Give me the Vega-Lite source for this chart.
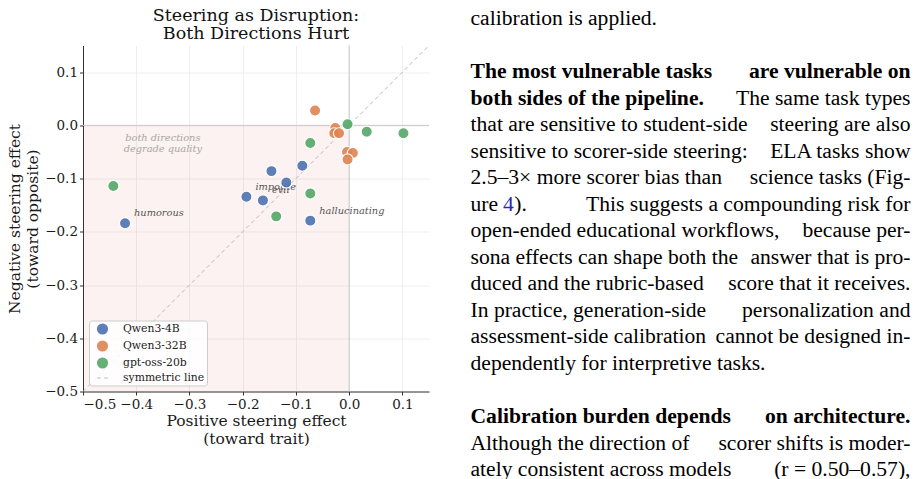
{
  "$schema": "https://vega.github.io/schema/vega-lite/v6.json",
  "padding": {"left": 7, "top": 6.5, "right": 0, "bottom": 0},
  "background": "white",
  "bounds": "flush",
  "spacing": 41.5,
  "config": {"view": {"stroke": null}, "font": "DejaVu Serif"},
  "resolve": {
    "scale": {"color": "independent", "shape": "independent", "size": "independent", "stroke": "independent"},
    "legend": {"color": "independent", "shape": "independent", "size": "independent", "stroke": "independent"}
  },
  "datasets": {
    "scores": [
      {"model": "Qwen3-4B", "x": -0.421, "y": -0.184, "trait": "humorous"},
      {"model": "Qwen3-4B", "x": -0.193, "y": -0.134, "trait": "impolite"},
      {"model": "Qwen3-4B", "x": -0.162, "y": -0.141, "trait": "evil"},
      {"model": "Qwen3-4B", "x": -0.146, "y": -0.086, "trait": null},
      {"model": "Qwen3-4B", "x": -0.118, "y": -0.1075, "trait": null},
      {"model": "Qwen3-4B", "x": -0.088, "y": -0.076, "trait": null},
      {"model": "Qwen3-4B", "x": -0.073, "y": -0.179, "trait": "hallucinating"},
      {"model": "Qwen3-32B", "x": -0.064, "y": 0.028, "trait": null},
      {"model": "Qwen3-32B", "x": -0.026, "y": -0.005, "trait": null},
      {"model": "Qwen3-32B", "x": -0.028, "y": -0.015, "trait": null},
      {"model": "Qwen3-32B", "x": -0.019, "y": -0.015, "trait": null},
      {"model": "Qwen3-32B", "x": -0.004, "y": -0.05, "trait": null},
      {"model": "Qwen3-32B", "x": 0.007, "y": -0.052, "trait": null},
      {"model": "Qwen3-32B", "x": -0.003, "y": -0.064, "trait": null},
      {"model": "gpt-oss-20b", "x": -0.003, "y": 0.002, "trait": null},
      {"model": "gpt-oss-20b", "x": 0.033, "y": -0.012, "trait": null},
      {"model": "gpt-oss-20b", "x": 0.102, "y": -0.015, "trait": null},
      {"model": "gpt-oss-20b", "x": -0.073, "y": -0.033, "trait": null},
      {"model": "gpt-oss-20b", "x": -0.443, "y": -0.114, "trait": null},
      {"model": "gpt-oss-20b", "x": -0.073, "y": -0.128, "trait": null},
      {"model": "gpt-oss-20b", "x": -0.137, "y": -0.171, "trait": null}
    ],
    "quadrant": [{"x": -0.5, "x2": 0, "y": -0.5, "y2": 0}],
    "zeroX": [{"x": 0}],
    "zeroY": [{"y": 0}],
    "diagonal": [
      {"model": "symmetric line", "x": -0.5, "y": -0.5},
      {"model": "symmetric line", "x": 0.15, "y": 0.15}
    ],
    "note": [{"x": -0.35, "y": -0.023, "text": "both directions\ndegrade quality"}],
    "page": [
      {"line": 0, "part": "lead", "kind": "body", "s": "calibration is applied."},
      {"line": 2, "part": "lead", "kind": "bold", "s": "The most vulnerable tasks"},
      {"line": 2, "part": "tail", "kind": "bold", "s": "are vulnerable on"},
      {"line": 3, "part": "lead", "kind": "bold", "s": "both sides of the pipeline."},
      {"line": 3, "part": "tail", "kind": "body", "s": "The same task types"},
      {"line": 4, "part": "lead", "kind": "body", "s": "that are sensitive to student-side"},
      {"line": 4, "part": "tail", "kind": "body", "s": "steering are also"},
      {"line": 5, "part": "lead", "kind": "body", "s": "sensitive to scorer-side steering:"},
      {"line": 5, "part": "tail", "kind": "body", "s": "ELA tasks show"},
      {"line": 6, "part": "lead", "kind": "body", "s": "2.5–3× more scorer bias than"},
      {"line": 6, "part": "tail", "kind": "body", "s": "science tasks (Fig-"},
      {"line": 7, "part": "lead", "kind": "body", "s": "ure\u00a0\u00a0\u00a0)."},
      {"line": 7, "part": "lead", "kind": "ref", "s": "\u200b\u00a0\u00a0\u00a0\u00a0\u00a0\u00a04"},
      {"line": 7, "part": "tail", "kind": "body", "s": "This suggests a compounding risk for"},
      {"line": 8, "part": "lead", "kind": "body", "s": "open-ended educational workflows,"},
      {"line": 8, "part": "tail", "kind": "body", "s": "because per-"},
      {"line": 9, "part": "lead", "kind": "body", "s": "sona effects can shape both the"},
      {"line": 9, "part": "tail", "kind": "body", "s": "answer that is pro-"},
      {"line": 10, "part": "lead", "kind": "body", "s": "duced and the rubric-based"},
      {"line": 10, "part": "tail", "kind": "body", "s": "score that it receives."},
      {"line": 11, "part": "lead", "kind": "body", "s": "In practice, generation-side"},
      {"line": 11, "part": "tail", "kind": "body", "s": "personalization and"},
      {"line": 12, "part": "lead", "kind": "body", "s": "assessment-side calibration"},
      {"line": 12, "part": "tail", "kind": "body", "s": "cannot be designed in-"},
      {"line": 13, "part": "lead", "kind": "body", "s": "dependently for interpretive tasks."},
      {"line": 15, "part": "lead", "kind": "bold", "s": "Calibration burden depends"},
      {"line": 15, "part": "tail", "kind": "bold", "s": "on architecture."},
      {"line": 16, "part": "lead", "kind": "body", "s": "Although the direction of"},
      {"line": 16, "part": "tail", "kind": "body", "s": "scorer shifts is moder-"},
      {"line": 17, "part": "lead", "kind": "body", "s": "ately consistent across models"},
      {"line": 17, "part": "tail", "kind": "body", "s": "(r = 0.50–0.57),"}
    ]
  },
  "hconcat": [
    {
      "width": 346,
      "height": 346,
      "title": {
        "text": ["Steering as Disruption:", "Both Directions Hurt"],
        "font": "DejaVu Serif",
        "fontSize": 17.5,
        "fontWeight": "normal",
        "lineHeight": 18.5,
        "offset": 1,
        "anchor": "middle",
        "color": "#111111"
      },
      "layer": [
        {
          "data": {"name": "quadrant"},
          "mark": {"type": "rect", "color": "#d62728", "opacity": 0.06},
          "encoding": {
            "x": {
              "field": "x",
              "type": "quantitative",
              "scale": {"domain": [-0.5, 0.15], "nice": false, "zero": false},
              "axis": {
                "title": ["Positive steering effect", "(toward trait)"],
                "values": [-0.5, -0.4, -0.3, -0.2, -0.1, 0, 0.1],
                "format": ".1f",
                "grid": true,
                "gridColor": "#ebebeb",
                "gridWidth": 0.8,
                "domainColor": "#333333",
                "tickColor": "#333333",
                "tickSize": 3.5,
                "labelFont": "DejaVu Serif",
                "labelFontSize": 13.5,
                "labelColor": "#1a1a1a",
                "labelPadding": 2,
                "titleFont": "DejaVu Serif",
                "titleFontSize": 15.5,
                "titleFontWeight": "normal",
                "titleColor": "#1a1a1a",
                "titlePadding": 3,
                "titleLineHeight": 18
              }
            },
            "x2": {"field": "x2"},
            "y": {
              "field": "y",
              "type": "quantitative",
              "scale": {"domain": [-0.5, 0.15], "nice": false, "zero": false},
              "axis": {
                "title": ["Negative steering effect", "(toward opposite)"],
                "values": [-0.5, -0.4, -0.3, -0.2, -0.1, 0, 0.1],
                "format": ".1f",
                "grid": true,
                "gridColor": "#ebebeb",
                "gridWidth": 0.8,
                "domainColor": "#333333",
                "tickColor": "#333333",
                "tickSize": 3.5,
                "labelFont": "DejaVu Serif",
                "labelFontSize": 13.5,
                "labelColor": "#1a1a1a",
                "labelPadding": 2,
                "titleFont": "DejaVu Serif",
                "titleFontSize": 15.5,
                "titleFontWeight": "normal",
                "titleColor": "#1a1a1a",
                "titlePadding": 4,
                "titleLineHeight": 18
              }
            },
            "y2": {"field": "y2"}
          }
        },
        {
          "data": {"name": "zeroX"},
          "mark": {"type": "rule", "color": "#c8c8c8", "strokeWidth": 1},
          "encoding": {"x": {"field": "x", "type": "quantitative"}}
        },
        {
          "data": {"name": "zeroY"},
          "mark": {"type": "rule", "color": "#c8c8c8", "strokeWidth": 1},
          "encoding": {"y": {"field": "y", "type": "quantitative"}}
        },
        {
          "data": {"name": "diagonal"},
          "mark": {"type": "line", "strokeWidth": 1, "strokeDash": [4, 3]},
          "encoding": {
            "x": {"field": "x", "type": "quantitative"},
            "y": {"field": "y", "type": "quantitative"},
            "stroke": {
              "field": "model",
              "type": "nominal",
              "scale": {
                "domain": ["Qwen3-4B", "Qwen3-32B", "gpt-oss-20b", "symmetric line"],
                "range": ["transparent", "transparent", "transparent", "#b8b8b8"]
              },
              "legend": {"title": null, "orient": "bottom-left"}
            }
          }
        },
        {
          "data": {"name": "note"},
          "mark": {
            "type": "text",
            "font": "DejaVu Serif",
            "fontSize": 9.8,
            "fontStyle": "italic",
            "color": "#a6a6a6",
            "align": "center",
            "baseline": "middle",
            "lineBreak": "\n",
            "lineHeight": 11.5
          },
          "encoding": {
            "x": {"field": "x", "type": "quantitative"},
            "y": {"field": "y", "type": "quantitative"},
            "text": {"field": "text"}
          }
        },
        {
          "data": {"name": "scores"},
          "transform": [{"filter": "isValid(datum.trait)"}],
          "mark": {
            "type": "text",
            "font": "DejaVu Serif",
            "fontSize": 9.8,
            "fontStyle": "italic",
            "color": "#555555",
            "align": "left",
            "baseline": "middle",
            "dx": 9,
            "dy": -10
          },
          "encoding": {
            "x": {"field": "x", "type": "quantitative"},
            "y": {"field": "y", "type": "quantitative"},
            "text": {"field": "trait"}
          }
        },
        {
          "data": {"name": "scores"},
          "mark": {"type": "point", "filled": true, "opacity": 0.9, "stroke": "#ffffff", "strokeWidth": 1.2},
          "encoding": {
            "x": {"field": "x", "type": "quantitative"},
            "y": {"field": "y", "type": "quantitative"},
            "shape": {
              "field": "model",
              "type": "nominal",
              "scale": {
                "domain": ["Qwen3-4B", "Qwen3-32B", "gpt-oss-20b", "symmetric line"],
                "range": ["circle", "circle", "circle", "stroke"]
              },
              "legend": {"title": null, "orient": "bottom-left"}
            },
            "size": {
              "field": "model",
              "type": "nominal",
              "scale": {
                "domain": ["Qwen3-4B", "Qwen3-32B", "gpt-oss-20b", "symmetric line"],
                "range": [125, 125, 125, 484]
              },
              "legend": {"title": null, "orient": "bottom-left"}
            },
            "color": {
              "field": "model",
              "type": "nominal",
              "scale": {
                "domain": ["Qwen3-4B", "Qwen3-32B", "gpt-oss-20b", "symmetric line"],
                "range": ["#4C72B0", "#DD8452", "#55A868", "#b8b8b8"]
              },
              "legend": {
                "title": null,
                "orient": "bottom-left",
                "offset": 6,
                "fillColor": "rgba(255,255,255,0.82)",
                "strokeColor": "#cccccc",
                "cornerRadius": 3,
                "padding": 2,
                "rowPadding": 0,
                "labelFont": "DejaVu Serif",
                "labelFontSize": 10.8,
                "labelColor": "#222222",
                "symbolOffset": 5,
                "labelOffset": 14,
                "symbolStrokeWidth": 1.2,
                "symbolDash": [4, 3],
                "symbolOpacity": 0.9
              }
            }
          }
        }
      ]
    },
    {
      "width": 440,
      "height": 345,
      "data": {"name": "page"},
      "encoding": {
        "y": {
          "field": "line",
          "type": "quantitative",
          "scale": {"domain": [1, 14], "reverse": true, "nice": false, "zero": false},
          "axis": null
        },
        "text": {"field": "s"}
      },
      "layer": [
        {
          "transform": [{"filter": "datum.kind === 'bold' && datum.part === 'lead'"}],
          "mark": {"type": "text", "font": "Liberation Serif", "fontSize": 21.6, "fontWeight": "bold", "align": "left", "baseline": "middle", "color": "#000000"},
          "encoding": {
            "x": {"datum": 0, "type": "quantitative", "scale": {"domain": [0, 1], "nice": false, "zero": false}, "axis": null}
          }
        },
        {
          "transform": [{"filter": "datum.kind === 'bold' && datum.part === 'tail'"}],
          "mark": {"type": "text", "font": "Liberation Serif", "fontSize": 21.6, "fontWeight": "bold", "align": "right", "baseline": "middle", "color": "#000000"},
          "encoding": {
            "x": {"datum": 1, "type": "quantitative"}
          }
        },
        {
          "transform": [{"filter": "datum.kind !== 'bold' && datum.part === 'lead'"}],
          "mark": {"type": "text", "font": "Liberation Serif", "fontSize": 21.6, "align": "left", "baseline": "middle"},
          "encoding": {
            "x": {"datum": 0, "type": "quantitative"},
            "color": {
              "field": "kind",
              "type": "nominal",
              "scale": {"domain": ["body", "ref"], "range": ["#000000", "#2a2ab0"]},
              "legend": null
            }
          }
        },
        {
          "transform": [{"filter": "datum.kind !== 'bold' && datum.part === 'tail'"}],
          "mark": {"type": "text", "font": "Liberation Serif", "fontSize": 21.6, "align": "right", "baseline": "middle", "color": "#000000"},
          "encoding": {
            "x": {"datum": 1, "type": "quantitative"}
          }
        }
      ]
    }
  ]
}
